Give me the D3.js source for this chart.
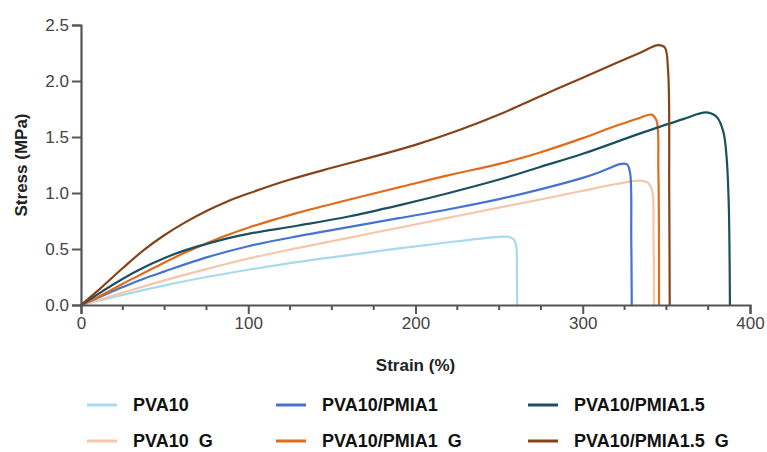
<!DOCTYPE html>
<html>
<head>
<meta charset="utf-8">
<script src="https://cdn.jsdelivr.net/npm/d3@7"></script>
<style>
  body { margin: 0; background: #fff; }
  text { font-family: "Liberation Sans", Arial, sans-serif; }
</style>
</head>
<body>
<div id="chart"></div>
<script>
const width = 767;
const height = 452;

// [strain %, stress MPa]
const pva10 = [[0,0],[25,0.09],[50,0.175],[75,0.25],[100,0.315],[130,0.385],[160,0.445],[190,0.505],[220,0.56],[240,0.595],[250,0.608],[255,0.61],[258.5,0.59],[260.2,0.53],[260.6,0.3],[260.8,0]];
const pva10G = [[0,0],[25,0.11],[50,0.22],[75,0.32],[100,0.415],[130,0.51],[160,0.60],[190,0.69],[220,0.78],[250,0.87],[274,0.94],[300,1.02],[320,1.08],[334,1.11],[339,1.09],[341.5,1.02],[342.3,0.6],[342.6,0]];
const pmia1 = [[0,0],[12.5,0.08],[25,0.16],[37.5,0.235],[50,0.30],[75,0.425],[100,0.525],[130,0.615],[160,0.695],[190,0.775],[220,0.855],[250,0.945],[274,1.03],[300,1.135],[310,1.185],[318,1.235],[323,1.26],[326.5,1.255],[328.3,1.18],[329,0.6],[329.3,0]];
const pmia1G = [[0,0],[12.5,0.09],[25,0.19],[37.5,0.285],[50,0.38],[62.5,0.47],[75,0.55],[87.5,0.625],[100,0.69],[115,0.76],[130,0.825],[160,0.94],[190,1.05],[220,1.16],[250,1.26],[274,1.36],[300,1.49],[320,1.60],[334,1.67],[341,1.70],[344,1.65],[345.2,1.2],[345.6,0]];
const pmia15 = [[0,0],[12.5,0.12],[25,0.235],[37.5,0.335],[50,0.42],[62.5,0.49],[75,0.545],[87.5,0.595],[100,0.635],[130,0.71],[160,0.79],[190,0.89],[220,1.0],[250,1.12],[274,1.23],[300,1.35],[334,1.53],[360,1.66],[374,1.72],[380,1.68],[384,1.55],[386,1.32],[387.3,0.9],[387.8,0.4],[388,0]];
const pmia15G = [[0,0],[12.5,0.16],[25,0.33],[37.5,0.49],[50,0.625],[62.5,0.74],[75,0.84],[87.5,0.925],[100,0.995],[125,1.12],[150,1.225],[175,1.325],[200,1.43],[225,1.555],[250,1.70],[274,1.86],[300,2.03],[320,2.16],[334,2.25],[345,2.32],[349,2.30],[351,2.1],[351.7,1.0],[352,0]];

const seriesNames = ["PVA10", "PVA10/PMIA1", "PVA10/PMIA1.5", "PVA10  G", "PVA10/PMIA1  G", "PVA10/PMIA1.5  G"];
const seriesData = [pva10, pmia1, pmia15, pva10G, pmia1G, pmia15G];
const seriesColors = ["#a9d9ee", "#4573cf", "#1c4f5f", "#f7c5a8", "#e3691b", "#86431a"];

const xTicks = [0, 100, 200, 300, 400];
const xMinorTicks = d3.range(0, 401, 25);
const yTicks = [0, 0.5, 1.0, 1.5, 2.0, 2.5];

const margin = {left: 81, right: 17, top: 25, bottom: 147};

const svg = d3.select("#chart")
  .append("svg")
  .attr("width", width)
  .attr("height", height);

const x = d3.scaleLinear().domain([0, 400]).range([margin.left, width - margin.right]);
const y = d3.scaleLinear().domain([0, 2.5]).range([height - margin.bottom, margin.top]);

const axisColor = "#555";

// curves first, axes drawn on top
const line = d3.line()
  .x(d => x(d[0]))
  .y(d => y(d[1]))
  .curve(d3.curveCatmullRom.alpha(0.5));

const drawOrder = [0, 3, 1, 4, 2, 5];
svg.append("g")
  .selectAll("path")
  .data(drawOrder)
  .join("path")
  .attr("d", i => line(seriesData[i]))
  .attr("fill", "none")
  .attr("stroke", i => seriesColors[i])
  .attr("stroke-width", 2.2);

// x axis
const xAxis = svg.append("g")
  .attr("transform", `translate(0,${y(0)})`)
  .call(d3.axisBottom(x).tickValues(xTicks).tickFormat(d3.format("d")).tickSize(9).tickPadding(3));

svg.append("g")
  .attr("transform", `translate(0,${y(0)})`)
  .selectAll("line")
  .data(xMinorTicks.filter(d => !xTicks.includes(d)))
  .join("line")
  .attr("x1", d => x(d))
  .attr("x2", d => x(d))
  .attr("y1", 0)
  .attr("y2", 5)
  .attr("stroke", axisColor)
  .attr("stroke-width", 2);

// y axis
const yAxis = svg.append("g")
  .attr("transform", `translate(${x(0)},0)`)
  .call(d3.axisLeft(y).tickValues(yTicks).tickFormat(d3.format(".1f")).tickSize(9).tickPadding(3));

[xAxis, yAxis].forEach(g => {
  g.select(".domain").attr("stroke", axisColor).attr("stroke-width", 2.2);
  g.selectAll(".tick line").attr("stroke", axisColor).attr("stroke-width", 2);
  g.selectAll(".tick text")
    .attr("fill", "#444")
    .style("font-size", "17px")
    .style("font-family", "'Liberation Sans', Arial, sans-serif");
});

svg.append("text")
  .attr("x", x(200))
  .attr("y", 371)
  .attr("text-anchor", "middle")
  .attr("font-weight", "bold")
  .attr("font-size", 17)
  .attr("fill", "#222")
  .text("Strain (%)");

svg.append("text")
  .attr("transform", `translate(27,${y(1.25)}) rotate(-90)`)
  .attr("text-anchor", "middle")
  .attr("font-weight", "bold")
  .attr("font-size", 17)
  .attr("fill", "#222")
  .text("Stress (MPa)");

// legend
const legendCols = [87, 276, 528];
const legendRows = [405, 441];

const legend = svg.append("g")
  .selectAll("g")
  .data(seriesNames)
  .join("g")
  .attr("transform", (d, i) => `translate(${legendCols[i % 3]},${legendRows[Math.floor(i / 3)]})`);

legend.append("line")
  .attr("x1", 0)
  .attr("x2", 30)
  .attr("stroke", (d, i) => seriesColors[i])
  .attr("stroke-width", 3);

legend.append("text")
  .attr("x", 46)
  .attr("dy", "0.35em")
  .attr("font-weight", "bold")
  .attr("font-size", 18)
  .attr("fill", "#111")
  .style("white-space", "pre")
  .attr("xml:space", "preserve")
  .text(d => d);
</script>
</body>
</html>
